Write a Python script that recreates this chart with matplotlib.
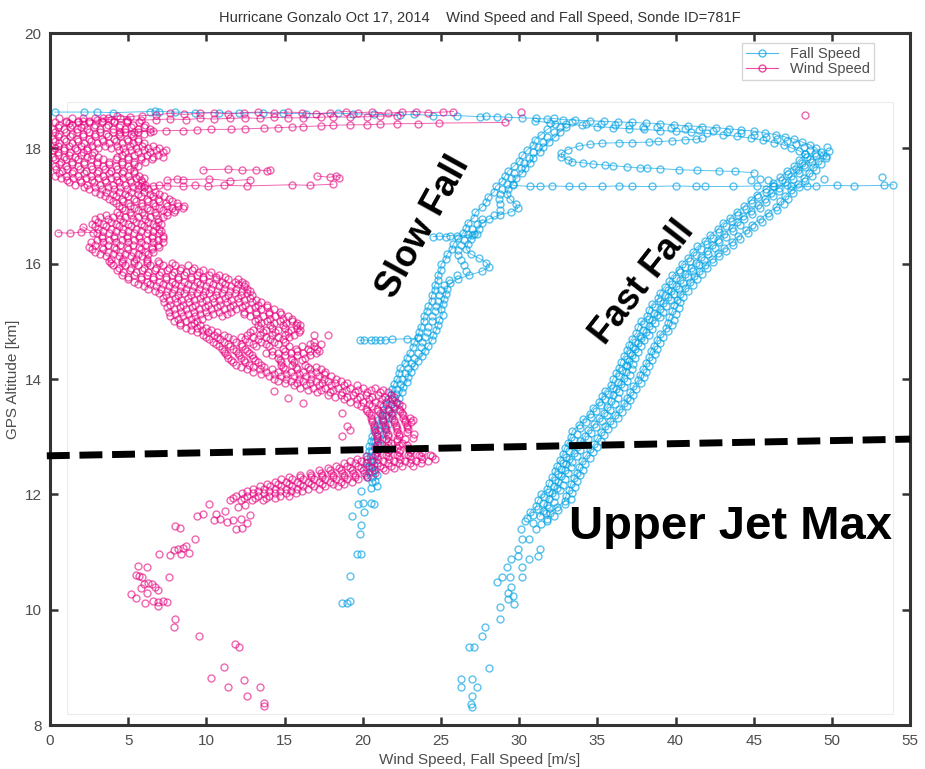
import matplotlib.pyplot as plt
from matplotlib.lines import Line2D
from matplotlib.patches import Rectangle

plt.rcParams['font.family'] = ['Liberation Sans Narrow', 'Liberation Sans', 'DejaVu Sans']

FALL_COLOR = '#03a2e4'
WIND_COLOR = '#e6007e'

# ---------------- wind speed (m/s, km) ----------------
# dense part of the profile, one entry per altitude row: (alt, [speeds])
wind_band_upper = [
    (18.52, [0.6, 1.4, 2.1, 2.9, 3.7, 4.5]),
    (18.45, [0.3, 1.0, 1.8, 2.5, 3.3, 4.1, 4.9, 5.7]),
    (18.37, [0.5, 1.3, 2.0, 2.8, 3.6, 4.4, 5.2, 6.0]),
    (18.29, [0.3, 1.0, 1.7, 2.5, 3.2, 4.0, 4.8, 5.6, 6.4]),
    (18.21, [0.5, 1.3, 2.1, 2.9, 3.7, 4.5, 5.3]),
    (18.13, [0.3, 1.0, 1.8, 2.6, 3.4, 4.2, 5.0, 5.6]),
    (18.05, [0.5, 1.2, 2.0, 2.7, 3.5, 4.3, 5.1, 5.9, 6.6]),
    (17.97, [0.2, 0.9, 1.7, 2.4, 4.4, 5.2, 6.0, 6.8, 7.4]),
    (17.89, [0.5, 1.2, 2.0, 2.7, 4.6, 5.4, 6.2, 6.9]),
    (17.81, [0.3, 1.0, 1.8, 2.6, 3.4, 4.2, 5.0, 5.8, 6.5]),
    (17.73, [0.6, 1.4, 2.2, 3.0, 3.8, 4.6, 5.4]),
    (17.65, [0.4, 1.1, 1.9, 2.7, 3.5, 4.3, 5.1]),
    (17.57, [0.6, 1.4, 2.2, 3.0, 3.8, 4.6, 5.4]),
    (17.49, [0.7, 1.5, 2.3, 3.1, 3.9, 4.7, 5.5, 6.0]),
    (17.41, [1.2, 2.0, 2.8, 3.6, 4.4, 5.2, 5.9]),
    (17.33, [2.2, 2.9, 3.7, 4.5, 5.3, 6.0]),
    (17.25, [2.9, 3.6, 4.4, 5.2, 6.0, 6.7]),
    (17.17, [3.5, 4.2, 5.0, 5.8, 6.6, 7.3]),
    (17.09, [4.0, 4.7, 5.5, 6.3, 7.0, 7.8]),
    (17.01, [4.4, 5.1, 5.9, 6.7, 7.5, 8.2, 8.6]),
    (16.93, [4.8, 5.6, 6.4, 7.2, 8.0]),
    (16.85, [3.6, 4.4, 5.2, 6.0, 6.8, 7.5]),
    (16.77, [2.9, 3.7, 4.5, 5.3, 6.1, 6.9]),
    (16.69, [2.7, 3.4, 4.2, 5.0, 5.8, 6.6, 7.1]),
    (16.61, [3.1, 3.9, 4.7, 5.5, 6.3, 7.0]),
    (16.53, [3.0, 3.8, 4.6, 5.4, 6.2, 7.0]),
    (16.45, [3.3, 4.1, 4.9, 5.7, 6.5, 7.2]),
    (16.37, [2.6, 3.4, 4.2, 5.0, 5.8, 6.6, 7.2]),
    (16.29, [2.5, 3.3, 4.1, 4.9, 5.7, 6.5, 7.0]),
    (16.21, [2.9, 3.7, 4.5, 5.3, 6.1, 6.6]),
    (16.13, [3.6, 4.4, 5.2, 5.9]),
    (16.05, [3.8, 4.6, 5.4, 6.2, 6.9]),
]
wind_band_upper_b = [
    (18.48, [1.0, 1.8, 2.5, 3.3, 4.1, 4.9]),
    (18.41, [0.6, 1.4, 2.2, 2.9, 3.7, 4.5, 5.3, 6.1]),
    (18.33, [0.2, 0.9, 1.7, 2.4, 3.2, 4.0, 4.8, 5.6, 6.4]),
    (18.25, [0.6, 1.4, 2.1, 2.9, 3.6, 4.4, 5.2, 6.0]),
    (18.17, [0.2, 0.9, 1.7, 2.5, 3.3, 4.1, 4.9, 5.6]),
    (18.09, [0.6, 1.4, 2.2, 3.0, 3.8, 4.6, 5.3, 6.0]),
    (18.01, [0.3, 0.9, 1.6, 2.4, 3.1, 3.9, 4.7, 5.5, 6.3, 7.0]),
    (17.93, [0.5, 1.3, 2.1, 2.8, 4.8, 5.6, 6.4, 7.2]),
    (17.85, [0.2, 0.9, 1.6, 2.4, 3.1, 4.3, 5.0, 5.8, 6.6, 7.2]),
    (17.77, [0.7, 1.4, 2.2, 3.0, 3.8, 4.6, 5.4, 6.1]),
    (17.69, [0.3, 1.0, 1.8, 2.6, 3.4, 4.2, 5.0, 5.6]),
    (17.61, [0.8, 1.5, 2.3, 3.1, 3.9, 4.7, 5.4]),
    (17.53, [0.3, 1.0, 1.8, 2.6, 3.4, 4.2, 5.0, 5.7]),
    (17.45, [1.1, 1.9, 2.7, 3.5, 4.3, 5.1, 5.8]),
    (17.37, [1.6, 2.4, 3.2, 4.0, 4.8, 5.6, 6.1]),
    (17.29, [2.5, 3.3, 4.1, 4.9, 5.6, 6.3]),
    (17.21, [3.2, 4.0, 4.8, 5.6, 6.4, 7.0]),
    (17.13, [3.8, 4.6, 5.4, 6.2, 6.9, 7.6]),
    (17.05, [4.2, 5.0, 5.8, 6.6, 7.4, 8.1]),
    (16.97, [4.6, 5.4, 6.2, 7.0, 7.8, 8.5]),
    (16.89, [4.3, 5.1, 5.9, 6.7, 7.5, 7.9]),
    (16.81, [3.2, 4.0, 4.8, 5.6, 6.4, 7.2]),
    (16.73, [3.1, 3.9, 4.7, 5.5, 6.3, 6.9]),
    (16.65, [2.9, 3.6, 4.4, 5.2, 6.0, 6.8]),
    (16.57, [3.4, 4.2, 5.0, 5.8, 6.6, 7.1]),
    (16.49, [3.3, 4.1, 4.9, 5.7, 6.5, 7.2]),
    (16.41, [3.0, 3.8, 4.6, 5.4, 6.2, 6.9]),
    (16.33, [2.9, 3.7, 4.5, 5.3, 6.1, 6.9]),
    (16.25, [2.7, 3.4, 4.2, 5.0, 5.8, 6.5]),
    (16.17, [3.2, 4.0, 4.8, 5.6, 6.3]),
    (16.09, [3.9, 4.7, 5.5, 6.2]),
    (16.01, [3.9, 4.6, 5.4, 6.2, 7.0, 7.8]),
]

wind_band_middle = [
    (15.97, [4.0, 4.8, 5.6, 6.4, 7.2, 8.0, 8.8]),
    (15.89, [4.3, 5.1, 5.9, 6.7, 7.5, 8.3, 9.1, 9.8]),
    (15.81, [4.6, 5.4, 6.2, 7.0, 7.8, 8.6, 9.4, 10.2, 10.8]),
    (15.73, [5.0, 5.8, 6.6, 7.4, 8.2, 9.0, 9.8, 10.6, 11.4, 12.0]),
    (15.65, [5.6, 6.4, 7.2, 8.0, 8.8, 9.6, 10.4, 11.2, 12.0, 12.5]),
    (15.57, [6.3, 7.1, 7.9, 8.7, 9.5, 10.3, 11.1, 11.9, 12.6]),
    (15.49, [7.0, 7.8, 8.6, 9.4, 10.2, 11.0, 11.8, 12.6]),
    (15.41, [7.2, 8.0, 8.8, 9.6, 10.4, 11.2, 12.0, 12.8]),
    (15.33, [7.3, 8.1, 8.9, 9.7, 10.5, 11.3, 12.1, 12.9, 13.5]),
    (15.25, [7.5, 8.3, 9.1, 9.9, 10.7, 11.5, 12.3, 13.1, 13.9]),
    (15.17, [7.6, 8.4, 9.2, 10.0, 10.8, 11.6, 12.4, 13.2, 14.0, 14.7]),
    (15.09, [7.7, 8.5, 9.3, 10.1, 11.0, 12.8, 13.6, 14.4, 15.2]),
    (15.01, [7.9, 8.7, 9.4, 13.1, 13.9, 14.7, 15.5]),
    (14.93, [8.3, 9.0, 9.6, 13.3, 14.1, 14.9, 15.7, 16.0]),
    (14.85, [9.0, 9.7, 10.3, 13.0, 13.8, 14.6, 15.4, 16.0]),
    (14.77, [9.8, 10.5, 11.1, 12.6, 13.4, 14.2, 15.0, 15.6, 16.9, 17.8]),
    (14.69, [10.2, 10.9, 11.7, 12.5, 13.3, 14.1, 14.9]),
    (14.61, [10.6, 11.4, 12.2, 13.0, 13.8, 14.6, 16.6, 17.3]),
    (14.53, [11.0, 11.7, 12.5, 14.9, 15.7, 16.5, 17.1]),
    (14.45, [11.2, 12.0, 12.7, 13.8, 14.6, 15.4, 16.2, 17.0]),
    (14.37, [11.4, 12.2, 13.0, 14.6, 15.4, 16.3]),
    (14.29, [11.7, 12.5, 13.3, 14.8, 15.6]),
    (14.21, [12.2, 13.0, 13.7, 14.9, 15.7, 16.5, 17.0]),
    (14.13, [13.0, 13.8, 14.6, 15.4, 16.2, 17.0, 17.6]),
    (14.05, [14.0, 14.8, 15.6, 16.4, 17.2, 18.0]),
    (13.97, [14.6, 15.4, 16.2, 17.0, 17.8, 18.6]),
    (13.89, [15.6, 16.4, 17.2, 18.0, 18.8, 19.6]),
    (13.81, [16.5, 17.3, 18.1, 18.9, 19.7, 20.5, 21.3]),
    (13.73, [17.8, 18.6, 19.4, 20.2, 21.0, 21.8]),
    (13.65, [18.8, 19.6, 20.4, 21.2, 21.9]),
    (13.57, [19.6, 20.4, 21.1, 21.8, 22.3]),
    (13.49, [20.2, 20.9, 21.6, 22.3]),
    (13.41, [20.4, 21.1, 21.8, 22.5]),
    (13.33, [20.5, 21.2, 21.9, 22.6, 23.0]),
    (13.25, [20.6, 21.3, 22.0, 22.7, 23.1]),
    (13.17, [20.7, 21.4, 22.1, 22.8]),
    (13.09, [20.8, 21.5, 22.2, 22.8]),
    (13.01, [20.9, 21.6, 22.3]),
    (12.93, [21.0, 21.6, 22.2]),
]
wind_band_middle_b = [
    (15.93, [4.4, 5.2, 6.0, 6.8, 7.6, 8.4, 9.2]),
    (15.85, [4.7, 5.5, 6.3, 7.1, 7.9, 8.7, 9.5, 10.3]),
    (15.77, [5.0, 5.8, 6.6, 7.4, 8.2, 9.0, 9.8, 10.6, 11.2]),
    (15.69, [5.4, 6.2, 7.0, 7.8, 8.6, 9.4, 10.2, 11.0, 11.8, 12.3]),
    (15.61, [6.0, 6.8, 7.6, 8.4, 9.2, 10.0, 10.8, 11.6, 12.4]),
    (15.53, [6.7, 7.5, 8.3, 9.1, 9.9, 10.7, 11.5, 12.3, 12.8]),
    (15.45, [7.4, 8.2, 9.0, 9.8, 10.6, 11.4, 12.2, 12.9]),
    (15.37, [7.6, 8.4, 9.2, 10.0, 10.8, 11.6, 12.4, 13.2]),
    (15.29, [7.7, 8.5, 9.3, 10.1, 10.9, 11.7, 12.5, 13.3, 13.9]),
    (15.21, [7.9, 8.7, 9.5, 10.3, 11.1, 11.9, 12.7, 13.5, 14.3]),
    (15.13, [8.0, 8.8, 9.6, 10.4, 11.3, 12.4, 13.2, 14.0, 14.8]),
    (15.05, [8.2, 9.0, 9.7, 13.3, 14.1, 14.9, 15.5]),
    (14.97, [8.3, 9.2, 13.5, 14.3, 15.1, 15.8]),
    (14.89, [8.7, 9.4, 10.0, 13.4, 14.2, 15.0, 15.8]),
    (14.81, [9.4, 10.1, 10.7, 12.8, 13.6, 14.4, 15.2, 15.9]),
    (14.73, [10.0, 10.7, 11.4, 12.2, 13.0, 13.8, 14.6, 15.3]),
    (14.65, [10.4, 11.1, 11.9, 12.7, 13.5, 14.3, 15.0, 16.9]),
    (14.57, [10.8, 11.5, 12.3, 13.2, 14.0, 15.3, 16.1, 16.9]),
    (14.49, [11.1, 11.9, 12.6, 14.2, 15.0, 15.8, 16.6, 17.2]),
    (14.41, [11.3, 12.1, 12.9, 14.2, 15.0, 15.8, 16.6]),
    (14.33, [11.6, 12.4, 13.1, 14.7, 15.5, 16.1]),
    (14.25, [11.9, 12.7, 13.5, 14.8, 15.5, 16.3]),
    (14.17, [12.6, 13.4, 14.2, 15.0, 15.8, 16.6, 17.3]),
    (14.09, [13.5, 14.3, 15.1, 15.9, 16.7, 17.5]),
    (14.01, [14.3, 15.1, 15.9, 16.7, 17.5, 18.3]),
    (13.93, [15.0, 15.8, 16.6, 17.4, 18.2, 19.0]),
    (13.85, [16.0, 16.8, 17.6, 18.4, 19.2, 20.0, 20.8]),
    (13.77, [17.1, 17.9, 18.7, 19.5, 20.3, 21.1, 21.6]),
    (13.69, [18.2, 19.0, 19.8, 20.6, 21.4, 22.0]),
    (13.61, [19.2, 20.0, 20.8, 21.5, 22.1]),
    (13.53, [19.9, 20.6, 21.3, 22.0, 22.5]),
    (13.45, [20.3, 21.0, 21.7, 22.4]),
    (13.37, [20.5, 21.2, 21.9, 22.6]),
    (13.29, [20.6, 21.3, 22.0, 22.7, 23.2]),
    (13.21, [20.7, 21.4, 22.1, 22.8]),
    (13.13, [20.8, 21.5, 22.2, 22.9]),
    (13.05, [20.9, 21.6, 22.3]),
    (12.97, [20.9, 21.5, 22.2, 22.7]),
    (12.89, [21.1, 21.8, 22.5]),
]

wind_band_lower = [
    (12.85, [20.9, 21.6, 22.3, 22.8]),
    (12.77, [21.0, 21.7, 22.4, 23.1]),
    (12.69, [20.8, 21.5, 22.2, 22.9, 23.6, 24.3]),
    (12.62, [19.6, 20.3, 21.0, 21.7, 22.4, 23.1, 23.8, 24.6]),
    (12.54, [18.8, 19.5, 20.2, 20.9, 21.6, 22.3, 23.0, 23.7]),
    (12.46, [17.8, 18.5, 19.2, 19.9, 20.6, 21.3, 22.0]),
    (12.38, [16.6, 17.3, 18.0, 18.7, 19.4, 20.1, 20.8]),
    (12.30, [15.3, 16.0, 16.7, 17.4, 18.1, 18.8, 19.5, 20.3]),
    (12.22, [14.4, 15.1, 15.8, 16.5, 17.2, 17.9, 18.6, 19.3]),
    (12.14, [13.4, 14.1, 14.8, 15.5, 16.2, 16.9, 17.6, 18.4]),
    (12.06, [12.6, 13.3, 14.0, 14.7, 15.4, 16.1]),
    (11.98, [11.9, 12.6, 13.3, 14.0, 14.7, 15.3]),
    (11.90, [11.5, 12.2, 12.9, 13.6]),
]
wind_band_lower_b = [
    (12.81, [20.8, 21.5, 22.2, 22.9]),
    (12.73, [20.9, 21.6, 22.3, 23.0, 23.8]),
    (12.66, [20.2, 20.9, 21.6, 22.3, 23.0, 23.7, 24.4]),
    (12.58, [19.2, 19.9, 20.6, 21.3, 22.0, 22.7, 23.4, 24.2]),
    (12.50, [18.3, 19.0, 19.7, 20.4, 21.1, 21.8, 22.5, 23.2]),
    (12.42, [17.2, 17.9, 18.6, 19.3, 20.0, 20.7, 21.4]),
    (12.34, [16.0, 16.7, 17.4, 18.1, 18.8, 19.5, 20.2]),
    (12.26, [14.8, 15.5, 16.2, 16.9, 17.6, 18.3, 19.0, 19.7]),
    (12.18, [13.9, 14.6, 15.3, 16.0, 16.7, 17.4, 18.1, 18.8]),
    (12.10, [13.0, 13.7, 14.4, 15.1, 15.8, 16.5, 17.2]),
    (12.02, [12.3, 13.0, 13.7, 14.4, 15.1, 15.7]),
    (11.94, [11.7, 12.4, 13.1, 13.8, 14.4]),
]

# isolated wind samples (speed, alt)
wind_scatter = [
    (14.3, 13.80), (15.2, 13.68), (16.2, 13.58), (18.7, 13.42), (19.0, 13.18),
    (19.2, 13.12), (18.7, 13.01), (23.3, 13.04), (23.2, 12.98), (30.1, 18.63),
    (48.3, 18.58),
    (10.2, 11.84), (9.8, 11.66), (10.6, 11.66), (11.2, 11.72), (12.0, 11.78),
    (12.5, 11.82), (12.8, 11.65), (10.5, 11.55), (10.9, 11.57), (11.3, 11.53),
    (11.7, 11.55), (12.2, 11.58), (12.6, 11.50), (9.4, 11.63), (11.9, 11.40),
    (12.3, 11.41), (8.0, 11.46), (8.3, 11.42), (9.3, 11.23),
    (7.0, 10.97), (7.7, 10.95), (7.9, 11.03), (8.2, 11.05), (8.5, 11.07),
    (8.7, 11.10), (8.9, 10.99), (8.4, 10.96), (5.6, 10.76), (6.2, 10.74),
    (5.5, 10.61), (5.7, 10.58), (5.9, 10.57), (7.6, 10.57), (6.0, 10.45),
    (6.3, 10.47), (6.5, 10.44), (6.7, 10.40), (5.8, 10.38), (6.9, 10.34),
    (5.2, 10.28), (6.2, 10.29), (5.5, 10.21), (6.6, 10.15), (6.9, 10.14),
    (7.2, 10.15), (7.5, 10.14), (6.1, 10.12), (6.9, 10.07),
    (8.0, 9.84), (7.9, 9.71), (9.5, 9.55), (11.8, 9.41), (12.1, 9.36),
    (11.1, 9.00), (10.3, 8.81), (12.4, 8.79), (11.4, 8.67), (13.4, 8.67),
    (12.6, 8.51), (13.7, 8.39), (13.7, 8.33),
]

# launch legs and short excursions, drawn with connecting lines
wind_top_a = [
    (25.8, 18.64), (25.1, 18.63), (24.2, 18.62), (23.4, 18.64), (22.5, 18.63),
    (21.6, 18.61), (20.6, 18.63), (19.7, 18.62), (18.9, 18.64), (17.9, 18.62),
    (17.0, 18.60), (16.1, 18.62), (15.2, 18.63), (14.3, 18.61), (13.3, 18.63),
    (12.4, 18.62), (11.4, 18.60), (10.5, 18.62), (9.6, 18.61), (8.6, 18.59),
    (7.7, 18.61), (6.8, 18.58), (5.9, 18.57), (5.1, 18.55), (4.3, 18.56),
    (3.4, 18.52),
]
wind_top_b = [
    (1.2, 18.44), (2.1, 18.47), (3.0, 18.49), (3.9, 18.50), (4.9, 18.50),
    (5.8, 18.49), (6.8, 18.50), (7.7, 18.51), (8.7, 18.50), (9.6, 18.52),
    (10.5, 18.51), (11.5, 18.52), (12.5, 18.53), (13.4, 18.52), (14.3, 18.54),
    (15.2, 18.53), (16.2, 18.53), (17.3, 18.54), (18.1, 18.55), (19.2, 18.54),
    (20.3, 18.55), (21.1, 18.56), (22.2, 18.57),
]
wind_top_c = [
    (4.5, 18.28), (5.4, 18.29), (6.6, 18.30), (7.4, 18.31), (8.5, 18.31),
    (9.4, 18.32), (10.3, 18.33), (11.6, 18.33), (12.5, 18.34), (13.7, 18.35),
    (14.6, 18.36), (15.5, 18.37), (16.2, 18.38), (17.3, 18.39), (18.1, 18.40),
    (19.2, 18.41), (20.3, 18.41), (21.1, 18.42), (22.2, 18.43), (23.5, 18.43),
    (24.9, 18.44), (29.1, 18.45),
]
wind_seg_1 = [(9.8, 17.63), (11.4, 17.64), (12.3, 17.62), (13.2, 17.63), (13.9, 17.61), (14.1, 17.63)]
wind_seg_2 = [(17.1, 17.52), (17.9, 17.50), (18.3, 17.53), (18.5, 17.49)]
wind_seg_3 = [(7.5, 17.45), (8.1, 17.47), (8.5, 17.46), (10.2, 17.47), (11.5, 17.44), (12.8, 17.46)]
wind_seg_4 = [
    (5.8, 17.35), (6.6, 17.35), (7.0, 17.36), (7.5, 17.35), (8.5, 17.34),
    (9.3, 17.36), (10.1, 17.34), (11.1, 17.36), (12.6, 17.35), (15.5, 17.37),
    (16.6, 17.36), (18.1, 17.38),
]
wind_seg_5 = [(0.5, 16.54), (1.3, 16.53), (2.0, 16.55), (2.75, 16.54), (2.1, 16.64)]

# ---------------- fall speed (m/s, km) ----------------
fall_top = [
    (0.3, 18.63), (2.2, 18.63), (3.0, 18.63), (4.0, 18.62), (6.4, 18.64),
    (6.7, 18.65), (7.0, 18.64), (8.0, 18.63), (9.3, 18.62), (10.8, 18.62),
    (12.1, 18.61), (13.6, 18.62), (14.9, 18.61), (16.4, 18.60), (18.4, 18.61),
    (19.4, 18.60), (20.7, 18.59), (22.4, 18.58), (23.3, 18.59), (24.5, 18.57),
    (26.0, 18.57), (27.5, 18.55), (27.9, 18.56), (28.6, 18.55), (29.3, 18.54),
    (30.2, 18.53), (31.1, 18.52), (31.8, 18.51), (32.2, 18.52), (32.8, 18.50),
    (33.6, 18.49), (34.5, 18.48), (35.4, 18.47), (36.3, 18.46), (37.2, 18.45),
    (38.1, 18.44), (39.0, 18.43), (39.9, 18.41), (40.8, 18.39), (41.7, 18.38),
    (42.6, 18.36), (43.4, 18.34), (44.2, 18.32), (45.0, 18.30), (45.7, 18.27),
    (46.4, 18.24), (47.0, 18.20), (47.6, 18.16), (48.1, 18.11), (48.6, 18.06),
    (49.0, 18.00), (49.3, 17.94), (49.6, 17.86),
]
fall_arc = [
    (31.0, 18.48), (32.0, 18.44), (33.0, 18.42), (34.0, 18.40), (35.0, 18.38),
    (36.0, 18.36), (37.0, 18.34), (38.0, 18.33), (39.0, 18.31), (40.0, 18.30),
    (41.0, 18.28), (42.0, 18.26), (43.0, 18.24), (43.9, 18.21), (44.8, 18.18),
    (45.6, 18.14), (46.3, 18.10), (46.9, 18.06), (47.4, 18.01), (47.9, 17.96),
    (48.3, 17.90),
]
fall_arc_b = [
    (33.4, 18.45), (34.3, 18.43), (35.2, 18.42), (36.1, 18.41), (37.0, 18.40),
    (37.9, 18.38), (38.8, 18.37), (39.7, 18.35), (40.6, 18.34), (41.5, 18.32),
    (42.4, 18.30), (43.3, 18.28), (44.2, 18.26), (45.0, 18.23), (45.8, 18.20),
    (46.5, 18.16), (47.1, 18.12), (47.7, 18.07), (48.2, 18.02), (48.6, 17.97),
    (49.8, 17.95), (49.7, 18.03),
]
fall_slow_l = [
    (32.3, 18.42), (31.8, 18.33), (31.4, 18.24), (31.0, 18.15), (30.9, 18.06),
    (30.5, 17.97), (30.2, 17.88), (30.0, 17.79), (29.7, 17.70), (29.3, 17.61),
    (29.1, 17.52), (28.9, 17.43), (28.5, 17.34), (28.4, 17.25), (28.0, 17.16),
    (27.9, 17.07), (27.6, 16.98), (27.2, 16.89), (27.1, 16.80), (26.7, 16.71),
    (26.6, 16.62), (26.4, 16.53), (26.1, 16.44), (25.8, 16.35), (25.7, 16.26),
    (25.4, 16.17), (25.3, 16.08), (25.0, 15.99), (25.0, 15.90), (24.8, 15.81),
    (24.8, 15.72), (24.6, 15.63), (24.6, 15.54), (24.4, 15.45), (24.4, 15.36),
    (24.2, 15.27), (24.1, 15.18), (23.9, 15.09), (23.9, 15.00), (23.7, 14.91),
    (23.6, 14.82), (23.5, 14.73), (23.3, 14.64), (23.2, 14.55), (23.0, 14.46),
    (22.8, 14.37), (22.7, 14.28), (22.4, 14.19), (22.3, 14.10), (22.2, 14.01),
    (22.0, 13.92), (21.9, 13.83), (21.8, 13.74), (21.6, 13.65), (21.5, 13.56),
    (21.3, 13.47), (21.2, 13.38), (21.0, 13.29), (20.9, 13.20), (20.7, 13.11),
    (20.6, 13.02), (20.5, 12.93), (20.4, 12.84), (20.4, 12.75), (20.3, 12.66),
    (20.3, 12.57), (20.2, 12.48), (20.4, 12.39), (20.3, 12.30), (20.6, 12.21),
]
fall_slow_m = [
    (32.6, 18.38), (32.2, 18.29), (31.8, 18.20), (31.5, 18.11), (31.2, 18.02),
    (30.9, 17.93), (30.6, 17.84), (30.3, 17.75), (30.1, 17.66), (29.7, 17.57),
    (29.5, 17.48), (29.2, 17.39), (28.9, 17.30), (28.8, 17.21), (28.7, 17.12),
    (28.8, 17.03), (28.8, 16.94), (28.4, 16.85), (27.6, 16.78), (27.3, 16.69),
    (27.0, 16.60), (26.7, 16.51), (26.5, 16.42), (26.3, 16.33), (26.1, 16.24),
    (26.1, 16.15), (26.3, 16.06), (26.5, 15.97), (26.6, 15.88), (26.0, 15.80),
    (25.5, 15.72), (25.2, 15.63), (25.0, 15.54), (24.9, 15.45), (24.8, 15.36),
    (24.7, 15.27), (24.6, 15.18), (24.4, 15.09), (24.4, 15.00), (24.2, 14.91),
    (24.1, 14.82), (24.0, 14.73), (23.8, 14.64), (23.7, 14.55), (23.5, 14.46),
    (23.3, 14.37), (23.1, 14.28), (22.9, 14.19), (22.7, 14.10), (22.5, 14.01),
    (22.4, 13.92), (22.2, 13.83), (22.1, 13.74), (21.9, 13.65), (21.8, 13.56),
    (21.6, 13.47), (21.5, 13.38), (21.3, 13.29), (21.2, 13.20), (21.0, 13.11),
    (20.9, 13.02), (20.8, 12.93), (20.7, 12.84), (20.6, 12.75), (20.5, 12.66),
    (20.5, 12.57), (20.5, 12.48), (20.6, 12.39), (20.6, 12.30),
]
fall_slow_r = [
    (33.0, 18.38), (32.6, 18.29), (32.3, 18.20), (31.9, 18.11), (31.5, 18.02),
    (31.3, 17.93), (30.9, 17.84), (30.7, 17.75), (30.4, 17.66), (30.2, 17.57),
    (29.8, 17.48), (29.6, 17.39), (29.3, 17.30), (29.2, 17.21), (29.4, 17.12),
    (29.8, 17.03), (29.9, 16.96), (29.5, 16.90), (28.8, 16.85), (28.1, 16.78),
    (27.6, 16.70), (27.4, 16.61), (27.1, 16.52), (26.9, 16.43), (26.7, 16.34),
    (26.6, 16.25), (26.9, 16.17), (27.4, 16.10), (27.9, 16.02), (28.1, 15.94),
    (27.6, 15.87), (26.8, 15.80), (26.1, 15.74), (25.6, 15.66), (25.4, 15.57),
    (25.3, 15.48), (25.2, 15.39), (25.1, 15.30), (25.0, 15.21), (25.1, 15.12),
    (24.9, 15.03), (24.8, 14.94), (24.7, 14.85), (24.5, 14.76), (24.4, 14.67),
    (24.2, 14.58), (24.0, 14.49), (23.8, 14.40), (23.5, 14.31), (23.3, 14.22),
    (23.1, 14.13), (22.9, 14.04), (22.8, 13.95), (22.6, 13.86), (22.5, 13.77),
    (22.3, 13.68), (22.2, 13.59), (22.0, 13.50), (21.9, 13.41), (21.7, 13.32),
    (21.6, 13.23), (21.4, 13.14), (21.3, 13.05), (21.2, 12.96), (21.0, 12.87),
    (20.9, 12.78), (20.8, 12.69), (20.7, 12.60), (20.7, 12.51), (20.8, 12.42),
    (20.9, 12.33), (20.8, 12.24),
]
fall_slow_tail = [
    (20.5, 12.12), (20.9, 12.15), (19.9, 12.06), (19.7, 11.83), (20.0, 11.85),
    (20.5, 11.86), (20.7, 11.83), (20.1, 11.70), (19.3, 11.63), (19.9, 11.47),
    (19.8, 11.31), (19.6, 10.97), (19.9, 10.96), (19.2, 10.59), (19.2, 10.16),
    (18.7, 10.12), (19.0, 10.11),
]
fall_branch_1 = [(24.5, 16.47), (24.9, 16.48), (25.3, 16.47), (25.6, 16.49), (26.0, 16.48), (27.0, 16.50), (27.3, 16.52)]
fall_branch_2 = [
    (19.8, 14.67), (20.1, 14.68), (20.5, 14.67), (20.8, 14.68), (21.1, 14.67),
    (21.4, 14.68), (21.9, 14.69), (22.8, 14.70), (23.5, 14.71),
]
fall_spike = [
    (29.6, 17.36), (30.7, 17.34), (31.3, 17.34), (32.1, 17.35), (33.2, 17.34),
    (34.0, 17.34), (35.3, 17.34), (36.4, 17.35), (37.2, 17.34), (38.5, 17.34),
    (40.0, 17.35), (41.3, 17.34), (41.9, 17.34), (43.7, 17.34), (45.2, 17.35),
    (46.2, 17.34), (47.4, 17.35), (48.4, 17.34), (49.0, 17.35), (50.3, 17.36),
    (51.4, 17.35), (53.3, 17.36), (53.9, 17.37),
]
fall_spike_extra = [(44.8, 17.46), (45.4, 17.47), (45.9, 17.46), (49.5, 17.47), (53.2, 17.51)]
fall_loop = [
    (45.0, 17.58), (43.8, 17.60), (42.8, 17.61), (41.4, 17.62), (40.2, 17.63),
    (39.0, 17.65), (38.2, 17.66), (37.7, 17.66), (36.9, 17.68), (36.0, 17.70),
    (35.5, 17.71), (34.7, 17.73), (34.1, 17.75), (33.4, 17.77), (33.1, 17.80),
    (32.7, 17.85), (32.7, 17.92), (33.1, 17.98), (33.8, 18.04), (34.5, 18.07),
    (35.3, 18.09), (36.4, 18.10), (37.2, 18.10), (38.3, 18.11), (38.9, 18.12),
    (39.8, 18.13), (40.6, 18.15), (41.3, 18.16), (41.7, 18.18),
]
fall_fast_a = [
    (48.3, 17.90), (47.9, 17.80), (47.6, 17.70), (47.1, 17.60), (46.7, 17.50),
    (46.2, 17.40), (45.8, 17.30), (45.2, 17.20), (44.8, 17.10), (44.4, 17.00),
    (43.9, 16.90), (43.5, 16.80), (43.0, 16.70), (42.7, 16.60), (42.2, 16.50),
    (41.9, 16.40), (41.4, 16.30), (41.1, 16.20), (40.8, 16.10), (40.4, 16.00),
    (40.2, 15.90), (39.8, 15.80), (39.6, 15.70), (39.3, 15.60), (39.0, 15.50),
    (38.9, 15.40), (38.5, 15.30), (38.3, 15.20), (38.2, 15.10), (37.8, 15.00),
    (37.6, 14.90), (37.5, 14.80), (37.2, 14.70), (37.0, 14.60), (36.9, 14.50),
    (36.7, 14.40), (36.5, 14.30), (36.4, 14.20), (36.2, 14.10), (36.0, 14.00),
    (35.9, 13.90), (35.5, 13.80), (35.3, 13.70), (35.1, 13.60), (34.7, 13.50),
    (34.5, 13.40), (34.1, 13.30), (33.8, 13.20), (33.4, 13.10), (33.3, 13.00),
    (33.1, 12.90), (32.9, 12.80), (32.8, 12.70), (32.6, 12.60), (32.4, 12.50),
    (32.3, 12.40), (32.1, 12.30), (31.9, 12.20), (31.8, 12.10), (31.4, 12.00),
    (31.2, 11.90), (31.1, 11.80), (30.7, 11.70), (30.5, 11.60),
]
fall_fast_a2 = [
    (48.4, 17.85), (48.1, 17.75), (47.7, 17.65), (47.2, 17.55), (46.8, 17.45),
    (46.3, 17.35), (45.8, 17.25), (45.3, 17.15), (44.9, 17.05), (44.5, 16.95),
    (44.0, 16.85), (43.6, 16.75), (43.2, 16.65), (42.8, 16.55), (42.4, 16.45),
    (42.0, 16.35), (41.6, 16.25), (41.3, 16.15), (40.9, 16.05), (40.6, 15.95),
    (40.3, 15.85), (40.0, 15.75), (39.8, 15.65), (39.5, 15.55), (39.3, 15.45),
    (39.0, 15.35), (38.7, 15.25), (38.6, 15.15), (38.3, 15.05), (38.0, 14.95),
    (37.9, 14.85), (37.7, 14.75), (37.4, 14.65), (37.3, 14.55), (37.1, 14.45),
    (36.9, 14.35), (36.8, 14.25), (36.6, 14.15), (36.4, 14.05), (36.3, 13.95),
    (36.0, 13.85), (35.7, 13.75), (35.5, 13.65), (35.2, 13.55), (34.9, 13.45),
    (34.6, 13.35), (34.3, 13.25), (33.9, 13.15), (33.7, 13.05), (33.5, 12.95),
    (33.3, 12.85), (33.2, 12.75), (33.0, 12.65), (32.8, 12.55), (32.7, 12.45),
    (32.5, 12.35), (32.3, 12.25), (32.2, 12.15), (31.9, 12.05), (31.6, 11.95),
    (31.5, 11.85), (31.2, 11.75), (30.9, 11.65),
]
fall_fast_b = [
    (48.9, 17.92), (48.6, 17.82), (48.2, 17.72), (47.8, 17.62), (47.4, 17.52),
    (47.0, 17.42), (46.6, 17.32), (46.1, 17.22), (45.7, 17.12), (45.3, 17.02),
    (44.8, 16.92), (44.3, 16.82), (43.9, 16.72), (43.6, 16.62), (43.1, 16.52),
    (42.7, 16.42), (42.3, 16.32), (42.0, 16.22), (41.6, 16.12), (41.3, 16.02),
    (41.0, 15.92), (40.6, 15.82), (40.3, 15.72), (40.0, 15.62), (39.7, 15.52),
    (39.5, 15.42), (39.2, 15.32), (39.0, 15.22), (38.8, 15.12), (38.5, 15.02),
    (38.3, 14.92), (38.1, 14.82), (37.8, 14.72), (37.6, 14.62), (37.4, 14.52),
    (37.2, 14.42), (37.0, 14.32), (36.9, 14.22), (36.8, 14.12), (36.7, 14.02),
    (36.5, 13.92), (36.2, 13.82), (36.0, 13.72), (35.9, 13.62), (35.6, 13.52),
    (35.4, 13.42), (35.1, 13.32), (34.8, 13.22), (34.4, 13.12), (34.2, 13.02),
    (33.9, 12.92), (33.7, 12.82), (33.5, 12.72), (33.2, 12.62), (33.0, 12.52),
    (32.9, 12.42), (32.7, 12.32), (32.5, 12.22), (32.4, 12.12), (32.1, 12.02),
    (31.9, 11.92), (31.8, 11.82), (31.5, 11.72), (31.3, 11.62),
]
fall_fast_b2 = [
    (49.0, 17.87), (48.7, 17.77), (48.3, 17.67), (47.9, 17.57), (47.5, 17.47),
    (47.1, 17.37), (46.6, 17.27), (46.2, 17.17), (45.8, 17.07), (45.4, 16.97),
    (44.9, 16.87), (44.4, 16.77), (44.1, 16.67), (43.7, 16.57), (43.2, 16.47),
    (42.8, 16.37), (42.5, 16.27), (42.1, 16.17), (41.8, 16.07), (41.5, 15.97),
    (41.1, 15.87), (40.8, 15.77), (40.5, 15.67), (40.2, 15.57), (39.9, 15.47),
    (39.7, 15.37), (39.4, 15.27), (39.2, 15.17), (39.0, 15.07), (38.7, 14.97),
    (38.5, 14.87), (38.3, 14.77), (38.0, 14.67), (37.8, 14.57), (37.6, 14.47),
    (37.4, 14.37), (37.3, 14.27), (37.2, 14.17), (37.1, 14.07), (36.9, 13.97),
    (36.7, 13.87), (36.4, 13.77), (36.3, 13.67), (36.1, 13.57), (35.8, 13.47),
    (35.6, 13.37), (35.3, 13.27), (34.9, 13.17), (34.6, 13.07), (34.4, 12.97),
    (34.1, 12.87), (33.9, 12.77), (33.7, 12.67), (33.4, 12.57), (33.3, 12.47),
    (33.1, 12.37), (32.9, 12.27), (32.8, 12.17), (32.6, 12.07), (32.3, 11.97),
    (32.2, 11.87), (31.9, 11.77), (31.7, 11.67),
]
fall_fast_c = [
    (49.4, 17.88), (49.1, 17.78), (48.8, 17.68), (48.5, 17.58), (48.2, 17.48),
    (47.8, 17.38), (47.4, 17.28), (47.0, 17.18), (46.7, 17.08), (46.4, 16.98),
    (45.9, 16.88), (45.4, 16.78), (44.9, 16.68), (44.5, 16.58), (44.0, 16.48),
    (43.6, 16.38), (43.1, 16.28), (42.7, 16.18), (42.3, 16.08), (41.9, 15.98),
    (41.5, 15.88), (41.2, 15.78), (40.9, 15.68), (40.6, 15.58), (40.3, 15.48),
    (40.1, 15.38), (39.9, 15.28), (39.8, 15.18), (39.6, 15.08), (39.5, 14.98),
    (39.4, 14.88), (39.0, 14.78), (38.8, 14.68), (38.6, 14.58), (38.4, 14.48),
    (38.3, 14.38), (38.1, 14.28), (37.9, 14.18), (37.7, 14.08), (37.6, 13.98),
    (37.3, 13.88), (37.1, 13.78), (36.9, 13.68), (36.7, 13.58), (36.4, 13.48),
    (36.1, 13.38), (35.8, 13.28), (35.5, 13.18), (35.2, 13.08), (35.0, 12.98),
    (34.8, 12.88), (34.5, 12.78), (34.3, 12.68), (34.0, 12.58), (33.8, 12.48),
    (33.7, 12.38), (33.5, 12.28), (33.3, 12.18), (33.2, 12.08), (33.0, 11.98),
    (32.9, 11.88), (32.4, 11.78), (32.0, 11.68), (31.8, 11.58),
]
fall_fast_c2 = [
    (49.6, 17.83), (49.3, 17.73), (49.0, 17.63), (48.7, 17.53), (48.3, 17.43),
    (47.9, 17.33), (47.5, 17.23), (47.2, 17.13), (46.9, 17.03), (46.5, 16.93),
    (46.0, 16.83), (45.5, 16.73), (45.0, 16.63), (44.6, 16.53), (44.1, 16.43),
    (43.7, 16.33), (43.2, 16.23), (42.8, 16.13), (42.4, 16.03), (42.0, 15.93),
    (41.7, 15.83), (41.4, 15.73), (41.1, 15.63), (40.8, 15.53), (40.5, 15.43),
    (40.3, 15.33), (40.2, 15.23), (40.0, 15.13), (39.9, 15.03), (39.8, 14.93),
    (39.5, 14.83), (39.2, 14.73), (39.0, 14.63), (38.8, 14.53), (38.7, 14.43),
    (38.5, 14.33), (38.3, 14.23), (38.1, 14.13), (38.0, 14.03), (37.8, 13.93),
    (37.5, 13.83), (37.3, 13.73), (37.1, 13.63), (36.9, 13.53), (36.6, 13.43),
    (36.3, 13.33), (36.0, 13.23), (35.7, 13.13), (35.4, 13.03), (35.2, 12.93),
    (35.0, 12.83), (34.7, 12.73), (34.5, 12.63), (34.2, 12.53), (34.1, 12.43),
    (33.9, 12.33), (33.7, 12.23), (33.6, 12.13), (33.4, 12.03), (33.3, 11.93),
    (32.9, 11.83), (32.5, 11.73), (32.2, 11.63),
]
fall_fast_tail = [
    (30.9, 11.50), (31.4, 11.48), (31.8, 11.54), (30.4, 11.54), (30.1, 11.40),
    (31.1, 11.40), (30.2, 11.23), (30.6, 11.23), (29.9, 11.06), (31.3, 11.06),
    (29.9, 10.93), (31.2, 10.93), (29.5, 10.88), (30.6, 10.88), (29.2, 10.74),
    (30.2, 10.74), (28.9, 10.57), (29.4, 10.57), (30.2, 10.57), (28.6, 10.48),
    (29.5, 10.40), (29.3, 10.30), (29.6, 10.24), (29.3, 10.19), (29.7, 10.10),
    (28.8, 10.05), (28.8, 9.84), (27.8, 9.71), (27.6, 9.55), (26.8, 9.36),
    (27.1, 9.36), (28.1, 8.99), (26.3, 8.80), (27.0, 8.80), (26.3, 8.66),
    (27.3, 8.66), (27.0, 8.51), (26.9, 8.37), (27.0, 8.32),
]

# annotation line marking the upper jet maximum
jet_spd = [-0.2, 55.0]
jet_alt = [12.67, 12.96]


def unzip(points):
    return [p[0] for p in points], [p[1] for p in points]


def rows_to_xy(rows):
    xs, ys = [], []
    for alt, speeds in rows:
        xs.extend(speeds)
        ys.extend([alt] * len(speeds))
    return xs, ys


def draw(ax, x, y, color, line=True, alpha=0.6):
    ax.plot(x, y, linestyle='-' if line else 'none', linewidth=0.7,
            color=color, marker='o', markersize=5, markerfacecolor='none',
            markeredgecolor=color, markeredgewidth=1.0, alpha=alpha)


fig = plt.figure(figsize=(9.25, 7.69), dpi=100)
ax = fig.add_axes([0.054, 0.057, 0.930, 0.900])

# fall speed traces
for seg in [fall_top, fall_arc, fall_slow_l, fall_slow_r, fall_branch_1,
            fall_branch_2, fall_spike, fall_loop, fall_fast_a, fall_fast_b,
            fall_fast_c]:
    draw(ax, *unzip(seg), FALL_COLOR, alpha=0.65)
for seg in [fall_arc_b, fall_slow_m, fall_fast_a2, fall_fast_b2, fall_fast_c2,
            fall_slow_tail, fall_spike_extra, fall_fast_tail]:
    draw(ax, *unzip(seg), FALL_COLOR, line=False, alpha=0.65)

# wind speed traces
for rows in [wind_band_upper, wind_band_upper_b, wind_band_middle,
             wind_band_middle_b, wind_band_lower, wind_band_lower_b]:
    draw(ax, *rows_to_xy(rows), WIND_COLOR, line=False)
draw(ax, *unzip(wind_scatter), WIND_COLOR, line=False)
for seg in [wind_top_a, wind_top_b, wind_top_c, wind_seg_1, wind_seg_2,
            wind_seg_3, wind_seg_4, wind_seg_5]:
    draw(ax, *unzip(seg), WIND_COLOR)

# faint inner box
ax.add_patch(Rectangle((1.1, 8.2), 52.8, 10.6, fill=False, edgecolor='#ececec',
                       linewidth=0.8, zorder=0))

ax.plot(jet_spd, jet_alt, color='black', linewidth=5, dashes=(3.3, 1.4),
        solid_capstyle='butt', clip_on=False, zorder=5)

bold = dict(family=['Liberation Sans', 'DejaVu Sans'], fontweight='bold', color='black')
ax.text(23.9, 16.63, 'Slow Fall', rotation=61, fontsize=26, ha='center', va='center', **bold)
ax.text(37.9, 15.67, 'Fast Fall', rotation=52, fontsize=26, ha='center', va='center', **bold)
ax.text(43.5, 11.44, 'Upper Jet Max', fontsize=34, ha='center', va='center', **bold)

ax.set_xlim(0, 55)
ax.set_ylim(8, 20)
ax.set_xticks(range(0, 56, 5))
ax.set_yticks(range(8, 21, 2))
ax.tick_params(direction='in', length=6, width=1.8, top=True, right=True,
               labelsize=11, colors='#333333', labelcolor='#4d4d4d', pad=6)
for s in ax.spines.values():
    s.set_linewidth(2.2)
    s.set_color('#333333')

ax.set_title('Hurricane Gonzalo Oct 17, 2014    Wind Speed and Fall Speed, Sonde ID=781F',
             fontsize=10.5, color='#333333', pad=8)
ax.set_xlabel('Wind Speed, Fall Speed [m/s]', fontsize=11, color='#4d4d4d', labelpad=4)
ax.set_ylabel('GPS Altitude [km]', fontsize=11, color='#4d4d4d', labelpad=3)

handles = [
    Line2D([], [], color=FALL_COLOR, marker='o', markerfacecolor='none', markersize=5, linewidth=0.8, alpha=0.7),
    Line2D([], [], color=WIND_COLOR, marker='o', markerfacecolor='none', markersize=5, linewidth=0.8, alpha=0.7),
]
leg = ax.legend(handles, ['Fall Speed', 'Wind Speed'], loc='upper right',
                bbox_to_anchor=(0.958, 0.986), borderaxespad=0, fontsize=10.5,
                frameon=True, fancybox=False, handlelength=2.2,
                labelspacing=0.05, borderpad=0.3)
leg.get_frame().set_edgecolor('#cccccc')
leg.get_frame().set_linewidth(1.0)
for t in leg.get_texts():
    t.set_color('#4d4d4d')

fig.savefig('out.png', dpi=100)
